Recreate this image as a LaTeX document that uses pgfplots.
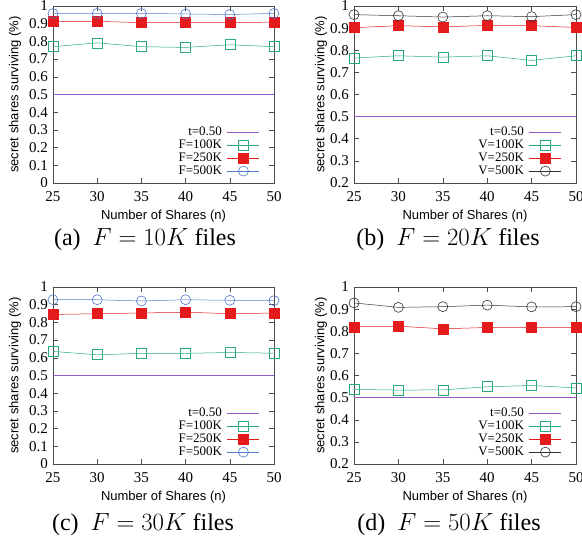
\documentclass[border=0pt]{standalone}
\usepackage{fontspec}
\setmainfont{Liberation Serif}
\setsansfont{Liberation Sans}
\usepackage{pgfplots}
\pgfplotsset{compat=1.18}

\definecolor{cthr}{RGB}{150,90,200}
\definecolor{cgreen}{RGB}{40,170,120}
\definecolor{cred}{RGB}{228,26,28}
\definecolor{cblue}{RGB}{80,120,205}
\definecolor{cblack}{RGB}{50,50,50}

\pgfplotsset{
  panel/.style={
    scale only axis, width=221bp, height=177bp, anchor=south west,
    xmin=25, xmax=50, xtick={25,30,35,40,45,50},
    tick align=inside, major tick length=5bp,
    axis line style={black!70},
    every tick/.style={black!70, line width=0.5pt},
    /pgf/number format/assume math mode=true,
    ticklabel style={font=\fontsize{15bp}{17bp}\selectfont, inner sep=1bp},
    xticklabel style={yshift=-7bp},
    yticklabel style={xshift=-4bp},
    label style={font=\sffamily\fontsize{13bp}{15bp}\selectfont},
    xlabel={Number of Shares (n)},
    ylabel={secret shares surviving (\%)},
    xlabel style={at={(axis description cs:0.5,-0.186)}, anchor=center},
    clip=false,
    legend cell align=right,
    legend plot pos=right,
    legend style={draw=none, fill=none, inner sep=0pt, row sep=2bp,
      column sep=5bp,
      nodes={inner sep=0pt, text height=9bp, text depth=2bp},
      font=\fontsize{13bp}{14bp}\selectfont,
      at={(axis description cs:0.937,0.035)}, anchor=south east},
    legend image code/.code={\draw[mark repeat=2,mark phase=2]
      plot coordinates {(0bp,0bp) (16bp,0bp) (32bp,0bp)};},
  },
  yfull/.style={ymin=0, ymax=1, ytick={0,0.1,0.2,0.3,0.4,0.5,0.6,0.7,0.8,0.9,1},
    yticklabels={0,0.1,0.2,0.3,0.4,0.5,0.6,0.7,0.8,0.9,1},
    ylabel style={at={(axis description cs:-0.172,0.5)}, anchor=center}},
  ypart/.style={ymin=0.2, ymax=1, ytick={0.2,0.3,0.4,0.5,0.6,0.7,0.8,0.9,1},
    yticklabels={0.2,0.3,0.4,0.5,0.6,0.7,0.8,0.9,1},
    ylabel style={at={(axis description cs:-0.149,0.5)}, anchor=center}},
  thr/.style={cthr, line width=0.9pt, mark=none},
  s100/.style={cgreen, line width=0.5pt, mark=square, mark size=5bp, mark options={line width=0.6pt}},
  s250/.style={cred, line width=0.5pt, mark=square*, mark size=5bp, mark options={fill=cred, draw=cred}},
  s500/.style={cblue, line width=0.5pt, mark=o, mark size=5bp, mark options={line width=0.6pt}},
  s500k/.style={cblack, line width=0.5pt, mark=o, mark size=5bp, mark options={line width=0.6pt}},
}

\begin{document}
\begin{tikzpicture}
\useasboundingbox (0,0) rectangle (582bp,543bp);

% (a) F = 10K
\begin{axis}[panel, yfull, at={(53bp,360bp)}]
\addplot[thr] coordinates {(25,0.5) (50,0.5)};
\addlegendentry{t=0.50}
\addplot[s100] coordinates {(25,0.770) (30,0.792) (35,0.770) (40,0.766) (45,0.781) (50,0.770)};
\addlegendentry{F=100K}
\addplot[s250] coordinates {(25,0.911) (30,0.913) (35,0.906) (40,0.908) (45,0.906) (50,0.909)};
\addlegendentry{F=250K}
\addplot[s500] coordinates {(25,0.958) (30,0.958) (35,0.958) (40,0.955) (45,0.952) (50,0.958)};
\addlegendentry{F=500K}
\end{axis}

% (b) F = 20K
\begin{axis}[panel, ypart, at={(354bp,360bp)}, width=222bp]
\addplot[thr] coordinates {(25,0.5) (50,0.5)};
\addlegendentry{t=0.50}
\addplot[s100] coordinates {(25,0.765) (30,0.775) (35,0.769) (40,0.775) (45,0.754) (50,0.775)};
\addlegendentry{V=100K}
\addplot[s250] coordinates {(25,0.902) (30,0.911) (35,0.906) (40,0.912) (45,0.911) (50,0.903)};
\addlegendentry{V=250K}
\addplot[s500k] coordinates {(25,0.961) (30,0.956) (35,0.950) (40,0.956) (45,0.952) (50,0.961)};
\addlegendentry{V=500K}
\end{axis}

% (c) F = 30K
\begin{axis}[panel, yfull, at={(53bp,79bp)}]
\addplot[thr] coordinates {(25,0.5) (50,0.5)};
\addlegendentry{t=0.50}
\addplot[s100] coordinates {(25,0.636) (30,0.617) (35,0.625) (40,0.625) (45,0.630) (50,0.626)};
\addlegendentry{F=100K}
\addplot[s250] coordinates {(25,0.845) (30,0.849) (35,0.853) (40,0.858) (45,0.849) (50,0.853)};
\addlegendentry{F=250K}
\addplot[s500] coordinates {(25,0.928) (30,0.928) (35,0.921) (40,0.928) (45,0.925) (50,0.923)};
\addlegendentry{F=500K}
\end{axis}

% (d) F = 50K
\begin{axis}[panel, ypart, at={(354bp,79bp)}, width=222bp]
\addplot[thr] coordinates {(25,0.5) (50,0.5)};
\addlegendentry{t=0.50}
\addplot[s100] coordinates {(25,0.537) (30,0.534) (35,0.535) (40,0.549) (45,0.555) (50,0.544)};
\addlegendentry{V=100K}
\addplot[s250] coordinates {(25,0.820) (30,0.823) (35,0.811) (40,0.817) (45,0.817) (50,0.817)};
\addlegendentry{V=250K}
\addplot[s500k] coordinates {(25,0.928) (30,0.908) (35,0.911) (40,0.918) (45,0.910) (50,0.911)};
\addlegendentry{V=500K}
\end{axis}

\begin{scope}[every node/.style={font=\fontsize{24bp}{28bp}\selectfont, anchor=center}]
\node at (145bp,303bp) {(a)\enspace$F=10K$ files};
\node at (448bp,303bp) {(b)\enspace$F=20K$ files};
\node at (143bp,18bp) {(c)\enspace$F=30K$ files};
\node at (449bp,18bp) {(d)\enspace$F=50K$ files};
\end{scope}
\end{tikzpicture}
\end{document}
